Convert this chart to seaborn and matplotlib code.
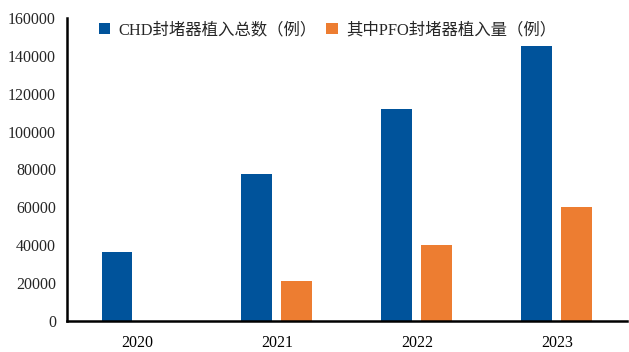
import matplotlib
matplotlib.use("Agg")
import matplotlib.pyplot as plt
from matplotlib.patches import Patch
import seaborn as sns
import pandas as pd
import numpy as np

years = ["2020", "2021", "2022", "2023"]
chd_total = [36500, 77600, 112000, 145000]
pfo_total = [np.nan, 21000, 40000, 60000]
series_names = ["CHD封堵器植入总数（例）", "其中PFO封堵器植入量（例）"]
colors = ["#00539B", "#ED7D31"]
yticks = [0, 20000, 40000, 60000, 80000, 100000, 120000, 140000, 160000]

df = pd.DataFrame({
    "year": years * 2,
    "value": chd_total + pfo_total,
    "series": [series_names[0]] * 4 + [series_names[1]] * 4,
})

sns.set_theme(style="white")
plt.rcParams["font.family"] = ["Liberation Serif", "Noto Sans CJK SC"]

fig = plt.figure(figsize=(6.29, 3.52), dpi=100)
ax = fig.add_axes([0.1065, 0.088, 0.89, 0.861])

sns.barplot(data=df, x="year", y="value", hue="series", order=years,
            hue_order=series_names, palette=colors, width=0.571, gap=0.225,
            saturation=1, ax=ax, legend=False, edgecolor="none")

ax.set_xlim(-0.5, 3.5)
ax.set_ylim(0, 160000)
ax.set_yticks(yticks)
ax.set_yticklabels([str(v) for v in yticks], fontsize=11.5)
ax.set_xticks(range(len(years)))
ax.set_xticklabels(years, fontsize=11.5)
ax.set_xticks(np.arange(-0.5, 4, 1), minor=True)
ax.tick_params(axis="x", which="major", length=0, pad=10, colors="black")
ax.tick_params(axis="x", which="minor", length=5, width=1.5, direction="out", color="black")
ax.tick_params(axis="y", length=5, width=1.5, direction="out", color="black", pad=3)
ax.set_xlabel("")
ax.set_ylabel("")
for s in ["top", "right"]:
    ax.spines[s].set_visible(False)
for s in ["left", "bottom"]:
    ax.spines[s].set_color("black")
    ax.spines[s].set_linewidth(1.8)

handles = [Patch(facecolor=c, edgecolor="none") for c in colors]
ax.legend(handles, series_names, ncol=2, loc="upper left",
          bbox_to_anchor=(0.03, 1.035), frameon=False, fontsize=11.8,
          handlelength=0.7, handleheight=0.7, handletextpad=0.5,
          columnspacing=0.6)

fig.savefig("out.png", dpi=100)
